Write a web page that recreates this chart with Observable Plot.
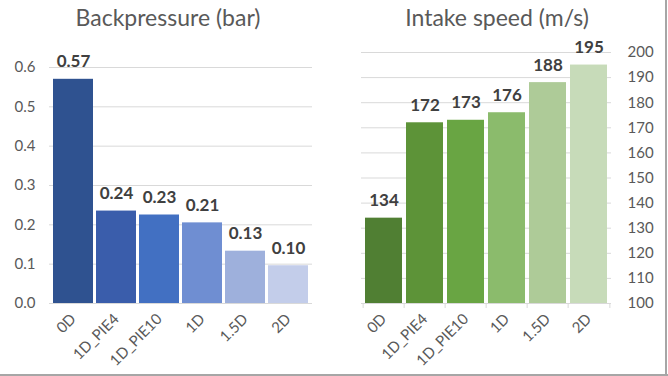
<!DOCTYPE html>
<html><head><meta charset="utf-8">
<script src="https://cdn.jsdelivr.net/npm/d3@7"></script>
<script src="https://cdn.jsdelivr.net/npm/@observablehq/plot@0.6"></script>
<style>
body{margin:0;background:#fff;}
#wrap{position:relative;width:668px;height:376px;overflow:hidden;font-family:Lato,"Open Sans",sans-serif;background:#fff;}
.title{position:absolute;top:6px;font-size:23px;line-height:23px;color:#595959;text-align:center;width:334px;white-space:nowrap;}
#left,#right{position:absolute;top:0;}
#left{left:0}#right{left:334px}
.bline{position:absolute;background:#a6a6a6;}
</style></head><body>
<div id="wrap">
  <div id="left"></div><div id="right"></div>
  <div class="title" style="left:1px">Backpressure (bar)</div>
  <div class="title" style="left:330px">Intake speed (m/s)</div>
  <div class="bline" style="left:665px;top:0;width:2px;height:376px"></div>
  <div class="bline" style="left:0;top:374px;width:668px;height:2px"></div>
</div>
<script>
const categories = ["0D","1D_PIE4","1D_PIE10","1D","1.5D","2D"];
const backpressure = [0.57,0.235,0.225,0.205,0.133,0.096];
const backpressureLabels = ["0.57","0.24","0.23","0.21","0.13","0.10"];
const intakeSpeed = [134,172,173,176,188,195];
const intakeLabels = ["134","172","173","176","188","195"];
const blues = ["#2f5290","#3a5dab","#4270c2","#6f8ed2","#9eb0dc","#c3cdea"];
const greens = ["#507f33","#5d9338","#69a543","#8bbb6c","#aecb98","#c7dbb9"];
const leftTicks = [0,0.1,0.2,0.3,0.4,0.5,0.6];
const rightTicks = [100,110,120,130,140,150,160,170,180,190,200];

const font = 'Lato, "Open Sans", sans-serif';
const bp = categories.map((c,i)=>({cat:c, v:backpressure[i], label:backpressureLabels[i], color:blues[i]}));
const sp = categories.map((c,i)=>({cat:c, v:intakeSpeed[i], label:intakeLabels[i], color:greens[i]}));

const left = Plot.plot({
  width:334, height:376, marginLeft:49, marginRight:22, marginTop:67, marginBottom:73,
  style:{fontFamily:font, fontSize:"15px", color:"#595959", background:"transparent"},
  color:{type:"identity"},
  x:{domain:categories, paddingInner:0.08, paddingOuter:0.03, label:null, tickSize:0, tickRotate:-45, tickPadding:13},
  y:{domain:[0,0.6], ticks:leftTicks, tickFormat:d3.format(".1f"), label:null, tickSize:0, tickPadding:14},
  marks:[
    Plot.gridY(leftTicks,{stroke:"#d9d9d9", strokeOpacity:1}),
    Plot.barY(bp,{x:"cat", y:"v", fill:"color"}),
    Plot.text(bp,{x:"cat", y:"v", text:"label", dy:-12, lineAnchor:"bottom", fontWeight:"bold", fontSize:17, fill:"#404040"})
  ]
});
document.getElementById("left").appendChild(left);

const rW = 334, rML = 27, rMR = 57;
const step = (rW - rML - rMR) / (categories.length - 0.1 + 0.09);
const right = Plot.plot({
  width:rW, height:376, marginLeft:rML, marginRight:rMR, marginTop:52, marginBottom:73,
  style:{fontFamily:font, fontSize:"15px", color:"#595959", background:"transparent"},
  color:{type:"identity"},
  x:{domain:categories, paddingInner:0.1, paddingOuter:0.045, label:null, tickSize:0, tickRotate:-45, tickPadding:13},
  y:{domain:[100,200], ticks:rightTicks, axis:"right", label:null, tickSize:0, tickPadding:16},
  marks:[
    Plot.gridY(rightTicks,{stroke:"#d9d9d9", strokeOpacity:1}),
    Plot.ruleX(categories,{x:d=>d, y1:100, y2:98, dx:-step/2, stroke:"#d9d9d9"}),
    Plot.ruleX([categories[categories.length-1]],{x:d=>d, y1:100, y2:98, dx:step/2, stroke:"#d9d9d9"}),
    Plot.barY(sp,{x:"cat", y1:100, y2:"v", fill:"color"}),
    Plot.text(sp,{x:"cat", y:"v", text:"label", dy:-12, lineAnchor:"bottom", fontWeight:"bold", fontSize:17, fill:"#404040"})
  ]
});
document.getElementById("right").appendChild(right);
</script>
</body></html>
